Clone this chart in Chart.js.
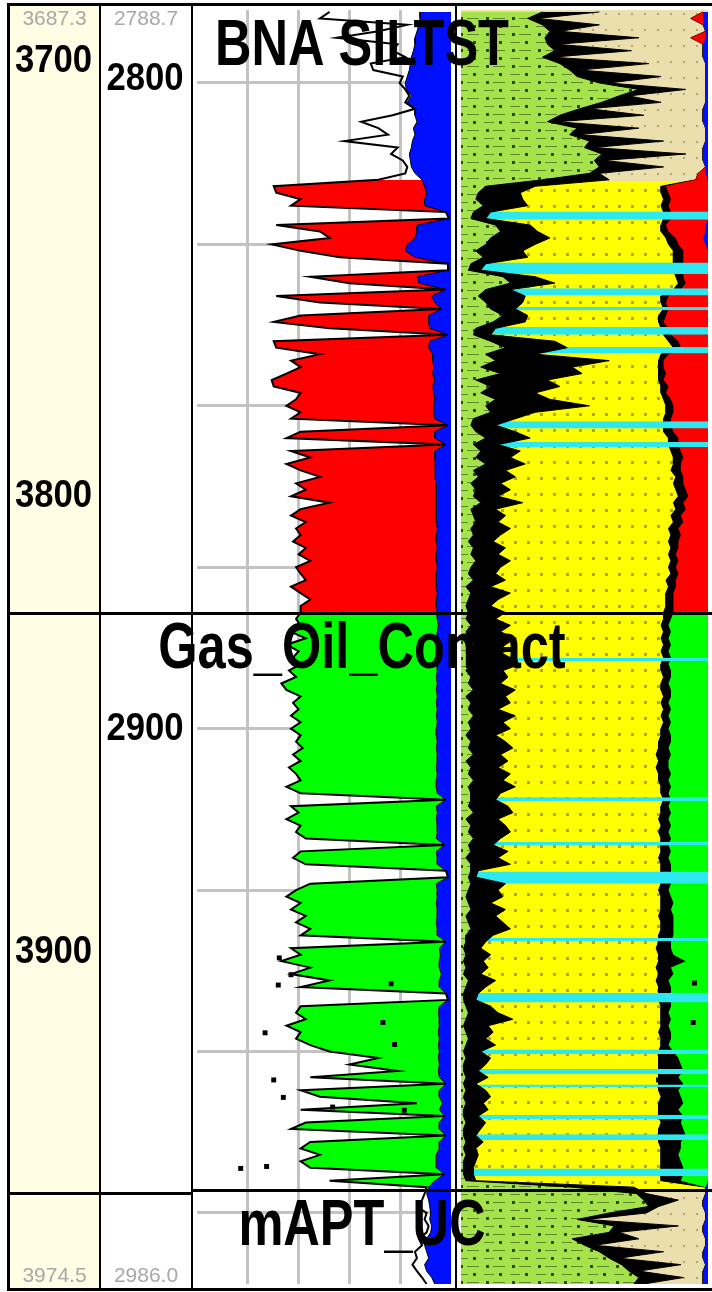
<!DOCTYPE html>
<html><head><meta charset="utf-8">
<script src="https://cdn.jsdelivr.net/npm/chart.js@4.4.1/dist/chart.umd.min.js"></script>
<style>
html,body{margin:0;padding:0;background:#fff;width:712px;height:1292px;overflow:hidden;}
#frame{position:absolute;left:7px;top:3px;width:705px;height:1288px;background:#000;}
canvas{position:absolute;top:6px;}
</style></head><body>
<div id="frame"></div>
<canvas id="cMD" style="left:10px;background:#fffde3;width:89px;height:1282px" width="89" height="1282"></canvas>
<canvas id="cTVD" style="left:101px;background:#fff;width:90px;height:1282px" width="90" height="1282"></canvas>
<canvas id="cT3" style="left:193px;background:#fff;width:262px;height:1282px" width="262" height="1282"></canvas>
<canvas id="cT4" style="left:457px;background:#fff;width:255px;height:1282px" width="255" height="1282"></canvas>
<script>
// ---------------- DATA ----------------
const tvdRange = [2788.7, 2986.0];
const mdRange = [3687.3, 3974.5];
const mdTicks = [3700, 3800, 3900];
const mdTickTvd = [2797.2, 2864.2, 2934.3];
const tvdTicks = [2800, 2900];
const gridTvd = [2800, 2825, 2850, 2875, 2900, 2925, 2950, 2975];
const phiGrid = [0.1, 0.2, 0.3, 0.4];

const topNames = ['BNA SILTST', 'Gas_Oil_Contact', 'mAPT_UC'];
const topTvd = [2788.7, 2882.1, 2971.4];

const fluidType = ['gas', 'oil'];
const fluidTop = [2815.0, 2882.0];
const fluidBase = [2882.0, 2971.4];

const lithType = ['silt', 'sand', 'silt'];
const lithTop = [2788.7, 2815.2, 2971.4];
const lithBase = [2815.2, 2971.4, 2986.0];

const calciteTop = [2819.9, 2827.8, 2831.8, 2834.7, 2837.8, 2840.9, 2852.4, 2855.6, 2889.0, 2910.6, 2917.5, 2922.1, 2932.4, 2940.9, 2949.7, 2952.7, 2955.1, 2959.8, 2962.8, 2968.1];
const calciteBase = [2821.2, 2829.6, 2832.9, 2835.2, 2839.0, 2841.9, 2853.5, 2856.4, 2889.5, 2911.2, 2918.1, 2924.0, 2932.9, 2942.4, 2950.4, 2953.5, 2955.5, 2960.5, 2963.7, 2969.3];

const tvd = [
2789,2790,2791,2792,2793,2794,2795,2796,2797,2798,
2799,2800,2801,2802,2803,2804,2805,2806,2807,2808,
2809,2810,2811,2812,2813,2814,2815,2816,2817,2818,
2819,2820,2821,2822,2823,2824,2825,2826,2827,2828,
2829,2830,2831,2832,2833,2834,2835,2836,2837,2838,
2839,2840,2841,2842,2843,2844,2845,2846,2847,2848,
2849,2850,2851,2852,2853,2854,2855,2856,2857,2858,
2859,2860,2861,2862,2863,2864,2865,2866,2867,2868,
2869,2870,2871,2872,2873,2874,2875,2876,2877,2878,
2879,2880,2881,2882,2883,2884,2885,2886,2887,2888,
2889,2890,2891,2892,2893,2894,2895,2896,2897,2898,
2899,2900,2901,2902,2903,2904,2905,2906,2907,2908,
2909,2910,2911,2912,2913,2914,2915,2916,2917,2918,
2919,2920,2921,2922,2923,2924,2925,2926,2927,2928,
2929,2930,2931,2932,2933,2934,2935,2936,2937,2938,
2939,2940,2941,2942,2943,2944,2945,2946,2947,2948,
2949,2950,2951,2952,2953,2954,2955,2956,2957,2958,
2959,2960,2961,2962,2963,2964,2965,2966,2967,2968,
2969,2970,2971,2972,2973,2974,2975,2976,2977,2978,
2979,2980,2981,2982,2983,2984,2985,2986];

// Track 3: effective porosity (black curve) and bulk volume water (blue)
const phie = [
0.239,0.258,0.086,0.143,0.225,0.105,0.115,0.090,0.158,0.153,
0.095,0.101,0.090,0.082,0.090,0.071,0.115,0.177,0.143,0.124,
0.210,0.105,0.118,0.095,0.086,0.090,0.143,0.349,0.344,0.296,
0.315,0.010,0.004,0.344,0.258,0.239,0.353,0.296,0.219,0.006,
0.006,0.277,0.200,0.010,0.344,0.258,0.019,0.296,0.349,0.239,
0.006,0.349,0.344,0.258,0.315,0.296,0.324,0.353,0.349,0.296,
0.305,0.324,0.296,0.315,0.006,0.296,0.324,0.010,0.315,0.277,
0.324,0.296,0.258,0.305,0.286,0.315,0.239,0.296,0.315,0.286,
0.305,0.296,0.311,0.286,0.300,0.277,0.305,0.296,0.286,0.315,
0.296,0.277,0.296,0.296,0.305,0.296,0.315,0.286,0.324,0.300,
0.311,0.296,0.319,0.305,0.334,0.324,0.296,0.311,0.300,0.315,
0.296,0.315,0.296,0.305,0.292,0.311,0.296,0.319,0.305,0.296,
0.324,0.296,0.010,0.315,0.300,0.324,0.296,0.305,0.286,0.013,
0.296,0.311,0.286,0.010,0.006,0.277,0.305,0.324,0.296,0.315,
0.286,0.305,0.277,0.296,0.010,0.315,0.296,0.334,0.277,0.315,
0.239,0.296,0.010,0.006,0.296,0.305,0.286,0.324,0.296,0.305,
0.277,0.239,0.143,0.200,0.105,0.277,0.010,0.296,0.258,0.067,
0.296,0.013,0.286,0.315,0.010,0.277,0.296,0.258,0.296,0.277,
0.013,0.239,0.048,0.052,0.057,0.067,0.048,0.052,0.044,0.048,
0.063,0.057,0.071,0.067,0.076,0.067,0.057,0.048];

const bvw = [
0.061,0.061,0.063,0.067,0.071,0.071,0.074,0.078,0.080,0.082,
0.086,0.090,0.088,0.078,0.086,0.071,0.071,0.067,0.074,0.071,
0.076,0.078,0.082,0.080,0.078,0.071,0.057,0.052,0.048,0.052,
0.052,0.010,0.004,0.067,0.067,0.071,0.086,0.090,0.071,0.006,
0.006,0.067,0.063,0.010,0.038,0.032,0.019,0.044,0.044,0.042,
0.006,0.042,0.044,0.036,0.036,0.034,0.036,0.032,0.036,0.034,
0.032,0.034,0.034,0.032,0.006,0.032,0.032,0.010,0.032,0.032,
0.031,0.031,0.032,0.029,0.029,0.029,0.029,0.029,0.029,0.029,
0.027,0.029,0.029,0.027,0.029,0.029,0.027,0.029,0.029,0.029,
0.027,0.029,0.029,0.027,0.027,0.025,0.027,0.027,0.025,0.027,
0.029,0.027,0.027,0.029,0.027,0.029,0.027,0.029,0.027,0.029,
0.027,0.029,0.029,0.027,0.029,0.027,0.027,0.029,0.027,0.029,
0.029,0.027,0.010,0.029,0.027,0.029,0.027,0.027,0.029,0.013,
0.029,0.027,0.027,0.010,0.006,0.029,0.027,0.027,0.029,0.027,
0.027,0.029,0.027,0.027,0.010,0.023,0.021,0.023,0.023,0.019,
0.023,0.023,0.010,0.006,0.023,0.025,0.023,0.023,0.025,0.023,
0.025,0.023,0.025,0.023,0.025,0.023,0.010,0.023,0.023,0.017,
0.023,0.013,0.023,0.023,0.010,0.023,0.023,0.029,0.029,0.029,
0.013,0.032,0.044,0.048,0.044,0.042,0.040,0.042,0.038,0.040,
0.048,0.052,0.048,0.044,0.052,0.048,0.038,0.032];

// Track 4: volumetric lithology (fractions from the left edge)
const vsh = [
0.33,0.27,0.33,0.36,0.34,0.35,0.38,0.33,0.40,0.44,
0.47,0.56,0.72,0.64,0.57,0.48,0.40,0.35,0.47,0.44,
0.52,0.50,0.57,0.54,0.56,0.52,0.33,0.10,0.07,0.06,
0.09,0.05,0.04,0.14,0.16,0.12,0.10,0.06,0.09,0.04,
0.03,0.17,0.20,0.10,0.07,0.10,0.12,0.17,0.13,0.06,
0.05,0.12,0.18,0.10,0.14,0.08,0.16,0.06,0.12,0.08,
0.14,0.10,0.12,0.05,0.04,0.06,0.10,0.05,0.08,0.06,
0.10,0.05,0.07,0.04,0.06,0.05,0.08,0.04,0.05,0.06,
0.04,0.05,0.03,0.05,0.04,0.06,0.04,0.03,0.05,0.02,
0.04,0.03,0.02,0.03,0.02,0.04,0.02,0.03,0.05,0.02,
0.03,0.04,0.02,0.04,0.03,0.05,0.02,0.04,0.03,0.05,
0.03,0.04,0.02,0.04,0.03,0.05,0.02,0.04,0.03,0.05,
0.03,0.04,0.04,0.03,0.05,0.02,0.04,0.03,0.05,0.03,
0.04,0.02,0.04,0.04,0.03,0.04,0.03,0.02,0.03,0.04,
0.02,0.03,0.04,0.02,0.02,0.01,0.02,0.01,0.02,0.01,
0.03,0.02,0.01,0.01,0.02,0.03,0.02,0.01,0.02,0.03,
0.02,0.01,0.02,0.01,0.01,0.02,0.01,0.02,0.01,0.02,
0.01,0.01,0.02,0.01,0.01,0.02,0.01,0.02,0.01,0.01,
0.01,0.02,0.45,0.71,0.74,0.76,0.60,0.47,0.62,0.60,
0.45,0.50,0.56,0.60,0.65,0.68,0.72,0.70];

const vshSpike = [
0.56,0.31,0.56,0.40,0.72,0.39,0.69,0.37,0.76,0.48,
0.81,0.60,0.91,0.68,0.81,0.52,0.74,0.39,0.72,0.48,
0.82,0.54,0.91,0.58,0.82,0.56,0.60,0.30,0.24,0.25,
0.27,0.12,0.10,0.28,0.31,0.36,0.30,0.25,0.27,0.10,
0.08,0.30,0.38,0.20,0.26,0.25,0.22,0.27,0.26,0.14,
0.12,0.38,0.43,0.30,0.60,0.45,0.49,0.35,0.40,0.30,
0.36,0.52,0.30,0.22,0.14,0.22,0.28,0.15,0.24,0.20,
0.26,0.18,0.22,0.16,0.20,0.15,0.25,0.14,0.18,0.15,
0.20,0.16,0.13,0.18,0.15,0.20,0.16,0.14,0.18,0.12,
0.20,0.15,0.12,0.18,0.14,0.20,0.16,0.22,0.18,0.15,
0.20,0.24,0.17,0.19,0.16,0.22,0.18,0.20,0.15,0.22,
0.17,0.20,0.14,0.18,0.21,0.16,0.19,0.15,0.20,0.17,
0.22,0.16,0.14,0.19,0.21,0.15,0.18,0.20,0.16,0.13,
0.19,0.15,0.20,0.07,0.06,0.18,0.15,0.17,0.12,0.18,
0.14,0.17,0.20,0.13,0.10,0.08,0.12,0.09,0.11,0.08,
0.14,0.10,0.07,0.06,0.12,0.15,0.21,0.11,0.13,0.10,
0.14,0.08,0.12,0.10,0.07,0.11,0.06,0.10,0.12,0.09,
0.11,0.07,0.10,0.08,0.06,0.09,0.06,0.07,0.06,0.05,
0.05,0.06,0.70,0.75,0.88,0.80,0.75,0.51,0.88,0.64,
0.72,0.54,0.82,0.64,0.89,0.72,0.90,0.74];

const phiEdge = [
0.98,0.93,0.98,0.99,0.93,0.98,0.98,0.98,0.99,0.99,
0.99,0.99,0.99,0.99,0.99,0.98,0.98,0.98,0.99,0.99,
0.99,0.98,0.98,0.98,0.99,0.96,0.95,0.81,0.81,0.82,
0.81,0.82,0.82,0.81,0.81,0.83,0.84,0.86,0.86,0.86,
0.86,0.87,0.88,0.86,0.81,0.81,0.82,0.80,0.80,0.81,
0.82,0.84,0.86,0.81,0.80,0.80,0.80,0.80,0.81,0.81,
0.82,0.83,0.83,0.82,0.82,0.82,0.84,0.84,0.85,0.86,
0.86,0.85,0.87,0.86,0.87,0.88,0.86,0.87,0.85,0.86,
0.84,0.85,0.84,0.85,0.84,0.85,0.84,0.85,0.83,0.84,
0.83,0.83,0.83,0.82,0.82,0.81,0.82,0.81,0.82,0.81,
0.82,0.81,0.81,0.82,0.81,0.81,0.82,0.81,0.82,0.81,
0.82,0.81,0.81,0.80,0.80,0.79,0.80,0.79,0.80,0.80,
0.81,0.81,0.82,0.81,0.81,0.80,0.81,0.80,0.81,0.81,
0.81,0.80,0.81,0.81,0.81,0.81,0.80,0.81,0.81,0.81,
0.80,0.81,0.81,0.80,0.80,0.79,0.80,0.80,0.79,0.80,
0.79,0.80,0.80,0.80,0.81,0.81,0.81,0.81,0.80,0.81,
0.81,0.80,0.80,0.80,0.80,0.80,0.80,0.80,0.81,0.80,
0.80,0.80,0.81,0.80,0.80,0.80,0.81,0.81,0.81,0.81,
0.81,0.81,0.99,0.99,0.98,0.98,0.99,0.99,0.98,0.98,
0.99,0.99,0.98,0.98,0.99,0.98,0.98,0.98];

const hcEdge = [
0.98,0.93,0.98,0.99,0.93,0.98,0.98,0.98,0.99,0.99,
0.99,0.99,0.99,0.99,0.99,0.98,0.98,0.98,0.99,0.99,
0.99,0.98,0.98,0.98,0.99,0.96,0.95,0.83,0.84,0.85,
0.84,0.85,0.85,0.83,0.84,0.87,0.88,0.90,0.90,0.90,
0.90,0.90,0.91,0.89,0.84,0.83,0.84,0.83,0.82,0.84,
0.85,0.88,0.89,0.84,0.82,0.82,0.83,0.82,0.84,0.83,
0.85,0.86,0.86,0.85,0.85,0.86,0.88,0.88,0.89,0.90,
0.89,0.89,0.90,0.90,0.91,0.92,0.90,0.91,0.89,0.90,
0.88,0.89,0.88,0.88,0.87,0.88,0.87,0.88,0.87,0.87,
0.86,0.86,0.86,0.86,0.85,0.84,0.85,0.84,0.85,0.84,
0.85,0.84,0.85,0.85,0.84,0.85,0.85,0.84,0.85,0.84,
0.85,0.84,0.85,0.85,0.84,0.85,0.84,0.84,0.85,0.84,
0.85,0.84,0.85,0.84,0.85,0.84,0.85,0.84,0.85,0.84,
0.85,0.84,0.85,0.85,0.85,0.85,0.84,0.85,0.86,0.85,
0.86,0.86,0.86,0.86,0.85,0.85,0.86,0.91,0.85,0.86,
0.84,0.85,0.85,0.85,0.85,0.84,0.85,0.84,0.85,0.85,
0.84,0.86,0.88,0.89,0.90,0.88,0.90,0.88,0.89,0.90,
0.88,0.90,0.89,0.90,0.91,0.89,0.89,0.88,0.89,0.90,
0.90,0.89,0.99,0.99,0.98,0.98,0.99,0.99,0.98,0.98,
0.99,0.99,0.98,0.98,0.99,0.98,0.98,0.98];

const waterEdge = [
0.98,0.98,0.98,0.99,0.99,0.98,0.98,0.98,0.99,0.99,
0.99,0.99,0.99,0.99,0.99,0.98,0.98,0.98,0.99,0.99,
0.99,0.98,0.98,0.98,0.99,0.99,1,1,1,1,
1,1,1,0.99,0.99,0.98,0.99,1,1,1,
1,1,1,1,1,1,1,1,1,1,
1,1,1,1,1,1,1,1,1,1,
1,1,1,1,1,1,1,1,1,1,
1,1,1,1,1,1,1,1,1,1,
1,1,1,1,1,1,1,1,1,1,
1,1,1,1,1,1,1,1,1,1,
1,1,1,1,1,1,1,1,1,1,
1,1,1,1,1,1,1,1,1,1,
1,1,1,1,1,1,1,1,1,1,
1,1,1,1,1,1,1,1,1,1,
1,1,1,1,1,1,1,1,1,1,
1,1,1,1,1,1,1,1,1,1,
1,1,1,1,1,1,1,1,1,1,
1,1,1,1,1,1,1,1,1,1,
1,1,0.99,0.99,0.98,0.98,0.99,0.99,0.98,0.98,
0.99,0.99,0.98,0.98,0.99,0.98,0.98,0.98];

// Outlier samples drawn as squares
const sqTvd = [2935.5, 2938.1, 2939.5, 2939.7, 2945.5, 2947.1, 2948.9, 2954.4, 2957.1, 2958.6, 2959.1, 2967.8, 2968.1];
const sqPhi = [0.338, 0.315, 0.118, 0.340, 0.134, 0.366, 0.111, 0.349, 0.330, 0.233, 0.092, 0.363, 0.414];
const sq4Tvd = [2939.4, 2945.5, 2954.4];
const sq4Frac = [0.945, 0.94, 0.80];

// ---------------- STYLE ----------------
const FONT = '"Liberation Sans", Arial, Helvetica, sans-serif';
const RED = '#ff0000', GREEN = '#00ff00', BLUE = '#0010ff', CYAN = '#2ee8ef';
const fluidColor = {gas: RED, oil: GREEN};

function makePattern(w, h, bg, draw) {
  const c = document.createElement('canvas'); c.width = w; c.height = h;
  const g = c.getContext('2d'); g.fillStyle = bg; g.fillRect(0, 0, w, h); draw(g);
  return g.createPattern(c, 'repeat');
}
const lithPattern = {
  sand: makePattern(13, 16, '#ffff00', g => { g.fillStyle = '#a9a828'; g.fillRect(5, 7, 3, 3); }),
  silt: makePattern(13, 16, '#ecdfae', g => { g.fillStyle = '#b3a57a'; g.fillRect(5, 7, 2, 2); })
};
const shalePattern = makePattern(26, 16, '#a5e24b', g => {
  g.fillStyle = '#5c8c25'; g.fillRect(1, 4, 10, 1); g.fillRect(10, 12, 12, 1);
  g.fillStyle = '#2a4d00'; g.fillRect(16, 3, 3, 3); g.fillRect(3, 11, 3, 3);
});

function pts(xs, lo, hi) {
  const out = [];
  for (let i = 0; i < tvd.length; i++) if (tvd[i] >= lo && tvd[i] <= hi) out.push({x: xs[i], y: tvd[i]});
  return out;
}
function rect(top, base, xv) { return [{x: xv, y: top}, {x: xv, y: base}]; }

function drawText(ctx, txt, x, y, font, color, sx, align, base) {
  ctx.save(); ctx.translate(x, y); ctx.scale(sx, 1);
  ctx.font = font; ctx.fillStyle = color; ctx.textAlign = align; ctx.textBaseline = base;
  ctx.fillText(txt, 0, 0); ctx.restore();
}

const framePlugin = {
  id: 'frameTops',
  afterDatasetsDraw(chart) {
    const ctx = chart.ctx, y = chart.scales.y, left = chart.canvas.offsetLeft;
    for (let i = 0; i < topNames.length; i++) {
      const ly = y.getPixelForValue(topTvd[i]);
      drawText(ctx, topNames[i], 362 - left, ly + 55, 'bold 64px ' + FONT, '#000', 0.79, 'center', 'alphabetic');
    }
  },
  afterDraw(chart) {
    const ctx = chart.ctx, y = chart.scales.y;
    ctx.save(); ctx.fillStyle = '#000';
    for (let i = 0; i < topTvd.length; i++) {
      if (topTvd[i] <= y.min) continue;
      const ly = Math.round(y.getPixelForValue(topTvd[i]));
      ctx.fillRect(0, ly - 1, chart.width, 3);
    }
    ctx.restore();
  }
};

function depthLabels(endVals, tickTexts, tickTvds) {
  return {
    id: 'depthLabels',
    afterDraw(chart) {
      const ctx = chart.ctx, y = chart.scales.y, w = chart.width, h = chart.height;
      drawText(ctx, endVals[0].toFixed(1), w / 2, 13, '21px ' + FONT, '#a8a8a8', 1, 'center', 'middle');
      drawText(ctx, endVals[1].toFixed(1), w / 2, h - 12, '21px ' + FONT, '#a8a8a8', 1, 'center', 'middle');
      for (let i = 0; i < tickTexts.length; i++) {
        drawText(ctx, String(tickTexts[i]), w / 2 - 1, y.getPixelForValue(tickTvds[i]), 'bold 39px ' + FONT, '#000', 0.89, 'center', 'middle');
      }
    }
  };
}

function yHidden() { return {type: 'linear', min: tvdRange[0], max: tvdRange[1], reverse: true, display: false}; }

function makeChart(id, datasets, scales, extra) {
  return new Chart(document.getElementById(id), {
    type: 'line',
    data: {datasets},
    options: {
      indexAxis: 'y', responsive: false, animation: false, devicePixelRatio: 1,
      layout: {padding: 0}, events: [],
      plugins: {legend: {display: false}, tooltip: {enabled: false}, filler: {propagate: false}},
      elements: {point: {radius: 0}, line: {tension: 0}},
      scales
    },
    plugins: [framePlugin].concat(extra || [])
  });
}

// MD and TVD columns
makeChart('cMD', [], {x: {type: 'linear', min: 0, max: 1, display: false}, y: yHidden()},
  [depthLabels(mdRange, mdTicks, mdTickTvd)]);
makeChart('cTVD', [], {x: {type: 'linear', min: 0, max: 1, display: false}, y: yHidden()},
  [depthLabels(tvdRange, tvdTicks, tvdTicks)]);

// Track 3: porosity / fluids
const t3 = [];
fluidType.forEach((f, i) => t3.push({data: pts(phie, fluidTop[i], fluidBase[i]), fill: {value: 0},
  backgroundColor: fluidColor[f], borderWidth: 0, order: 50}));
t3.push({data: pts(bvw, tvdRange[0], tvdRange[1]), fill: {value: 0}, backgroundColor: BLUE,
  borderColor: '#000', borderWidth: 1, order: 40});
t3.push({data: pts(phie, tvdRange[0], tvdRange[1]), fill: false, borderColor: '#000', borderWidth: 2, order: 30});
t3.push({data: sqTvd.map((d, i) => ({x: sqPhi[i], y: d})), showLine: false, fill: false, pointRadius: 3.5,
  pointStyle: 'rect', pointBackgroundColor: '#000', pointBorderWidth: 0, order: 5});
const gridOpts = {color: '#c3c3c3', lineWidth: 3, drawTicks: false};
makeChart('cT3', t3, {
  x: {type: 'linear', min: 0, max: 0.5, reverse: true, position: 'bottom', ticks: {display: false},
      border: {display: false}, grid: gridOpts,
      afterBuildTicks: s => { s.ticks = phiGrid.map(v => ({value: v})); }, afterFit: s => { s.height = 0; }},
  y: {type: 'linear', min: tvdRange[0], max: tvdRange[1], reverse: true, ticks: {display: false},
      border: {display: false}, grid: gridOpts,
      afterBuildTicks: s => { s.ticks = gridTvd.map(v => ({value: v})); }, afterFit: s => { s.width = 0; }}
});

// Track 4: lithology volumes
const t4 = [];
lithType.forEach((l, i) => t4.push({data: rect(lithTop[i], lithBase[i], 0), fill: {value: 1},
  backgroundColor: lithPattern[l], borderWidth: 0, order: 100}));
t4.push({data: pts(phiEdge, tvdRange[0], tvdRange[1]), fill: {value: 1}, backgroundColor: '#000',
  borderColor: '#000', borderWidth: 1, order: 90});
t4.push({data: pts(hcEdge, tvdRange[0], fluidTop[0]), fill: {value: 1},
  backgroundColor: RED, borderWidth: 0, order: 80});
fluidType.forEach((f, i) => t4.push({data: pts(hcEdge, fluidTop[i], fluidBase[i]), fill: {value: 1},
  backgroundColor: fluidColor[f], borderWidth: 0, order: 80}));
t4.push({data: pts(waterEdge, tvdRange[0], tvdRange[1]), fill: {value: 1}, backgroundColor: BLUE,
  borderWidth: 0, order: 70});
calciteTop.forEach((t, i) => t4.push({data: rect(t, calciteBase[i], 0), fill: {value: 1},
  backgroundColor: CYAN, borderWidth: 0, order: 60}));
t4.push({data: pts(vshSpike, tvdRange[0], tvdRange[1]), fill: {value: 0}, backgroundColor: '#000',
  borderColor: '#000', borderWidth: 1, order: 50});
t4.push({data: pts(vsh, tvdRange[0], tvdRange[1]), fill: {value: 0}, backgroundColor: shalePattern,
  borderColor: '#000', borderWidth: 1, order: 40});
t4.push({data: sq4Tvd.map((d, i) => ({x: sq4Frac[i], y: d})), showLine: false, fill: false, pointRadius: 3.5,
  pointStyle: 'rect', pointBackgroundColor: '#000', pointBorderWidth: 0, order: 5});
makeChart('cT4', t4, {x: {type: 'linear', min: 0, max: 1, display: false}, y: yHidden()});
</script>
</body></html>
